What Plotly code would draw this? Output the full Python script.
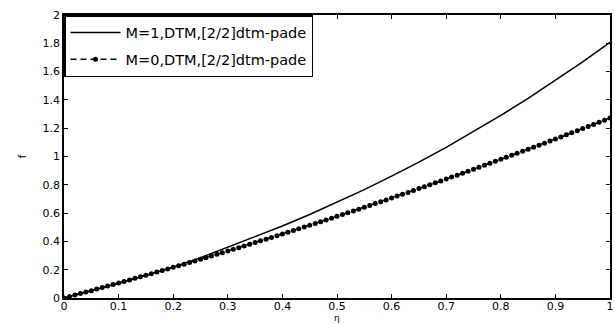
import plotly.graph_objects as go

# --- data ---
eta_m1 = [0.00, 0.05, 0.10, 0.15, 0.20, 0.25, 0.30, 0.35, 0.40, 0.45, 0.50,
          0.55, 0.60, 0.65, 0.70, 0.75, 0.80, 0.85, 0.90, 0.95, 1.00]
f_m1 = [0.000, 0.051, 0.104, 0.159, 0.218, 0.285, 0.358, 0.432, 0.509, 0.590, 0.676,
        0.766, 0.861, 0.960, 1.065, 1.175, 1.290, 1.410, 1.536, 1.668, 1.806]

eta_m0 = [i / 100 for i in range(101)]
f_m0 = [0.000, 0.010, 0.021, 0.031, 0.042, 0.052, 0.063, 0.074, 0.084, 0.095,
        0.106, 0.117, 0.128, 0.139, 0.150, 0.161, 0.172, 0.183, 0.194, 0.205,
        0.217, 0.228, 0.239, 0.251, 0.262, 0.274, 0.285, 0.297, 0.309, 0.320,
        0.332, 0.344, 0.356, 0.368, 0.380, 0.392, 0.404, 0.416, 0.428, 0.440,
        0.452, 0.464, 0.477, 0.489, 0.502, 0.514, 0.527, 0.539, 0.552, 0.564,
        0.577, 0.590, 0.603, 0.615, 0.628, 0.641, 0.654, 0.667, 0.680, 0.693,
        0.707, 0.720, 0.733, 0.746, 0.760, 0.773, 0.787, 0.800, 0.814, 0.827,
        0.841, 0.855, 0.868, 0.882, 0.896, 0.910, 0.924, 0.938, 0.952, 0.966,
        0.980, 0.994, 1.008, 1.023, 1.037, 1.051, 1.066, 1.080, 1.094, 1.109,
        1.124, 1.138, 1.153, 1.168, 1.182, 1.197, 1.212, 1.227, 1.242, 1.257,
        1.272]

name_m1 = "M=1,DTM,[2/2]dtm-pade"
name_m0 = "M=0,DTM,[2/2]dtm-pade"
x_ticks = [0, 0.1, 0.2, 0.3, 0.4, 0.5, 0.6, 0.7, 0.8, 0.9, 1]
x_tick_text = ["0", "0.1", "0.2", "0.3", "0.4", "0.5", "0.6", "0.7", "0.8", "0.9", "1"]
y_ticks = [0, 0.2, 0.4, 0.6, 0.8, 1, 1.2, 1.4, 1.6, 1.8, 2]
y_tick_text = ["0", "0.2", "0.4", "0.6", "0.8", "1", "1.2", "1.4", "1.6", "1.8", "2"]

FONT = "DejaVu Sans"

fig = go.Figure()
fig.add_trace(go.Scatter(
    x=eta_m1, y=f_m1, mode="lines", name=name_m1, legendgroup="a",
    line=dict(color="black", width=1.5),
))
fig.add_trace(go.Scatter(
    x=eta_m0, y=f_m0, mode="lines+markers", name=name_m0, legendgroup="b",
    line=dict(color="black", width=1.5, dash="6px,4px"),
    marker=dict(color="black", size=5, symbol="circle"),
))

axis_common = dict(
    showline=True, linecolor="black", linewidth=1.5, mirror="allticks",
    ticks="inside", ticklen=4, tickwidth=1, tickcolor="black",
    showgrid=False, zeroline=False, ticklabeloverflow="allow",
    tickfont=dict(family=FONT, size=11, color="black"),
)

fig.update_layout(
    width=615, height=324,
    margin=dict(l=64, r=1, t=15, b=26),
    paper_bgcolor="white", plot_bgcolor="white",
    showlegend=True,
    legend=dict(
        x=0, y=1, xanchor="left", yanchor="top",
        bgcolor="white", bordercolor="black", borderwidth=1.5,
        font=dict(family=FONT, size=14.5, color="black"),
        itemwidth=50, tracegroupgap=5, traceorder="grouped",
    ),
    xaxis=dict(range=[0, 1], tickvals=x_ticks, ticktext=x_tick_text,
               ticklabelstandoff=-3, **axis_common),
    yaxis=dict(range=[0, 2], tickvals=y_ticks, ticktext=y_tick_text, **axis_common),
    annotations=[
        dict(text="η", xref="paper", yref="paper", x=0.5, y=0,
             xanchor="center", yanchor="bottom", yshift=-26, showarrow=False,
             borderpad=0, font=dict(family=FONT, size=9, color="black")),
        dict(text="f", xref="paper", yref="paper", x=0, y=0.5,
             xanchor="center", yanchor="middle", xshift=-42, textangle=-90,
             showarrow=False, font=dict(family=FONT, size=11, color="black")),
    ],
)

fig.write_html(
    "out.html",
    config={"displayModeBar": False},
    post_script="document.body.style.margin='0';document.body.style.padding='0';",
)
